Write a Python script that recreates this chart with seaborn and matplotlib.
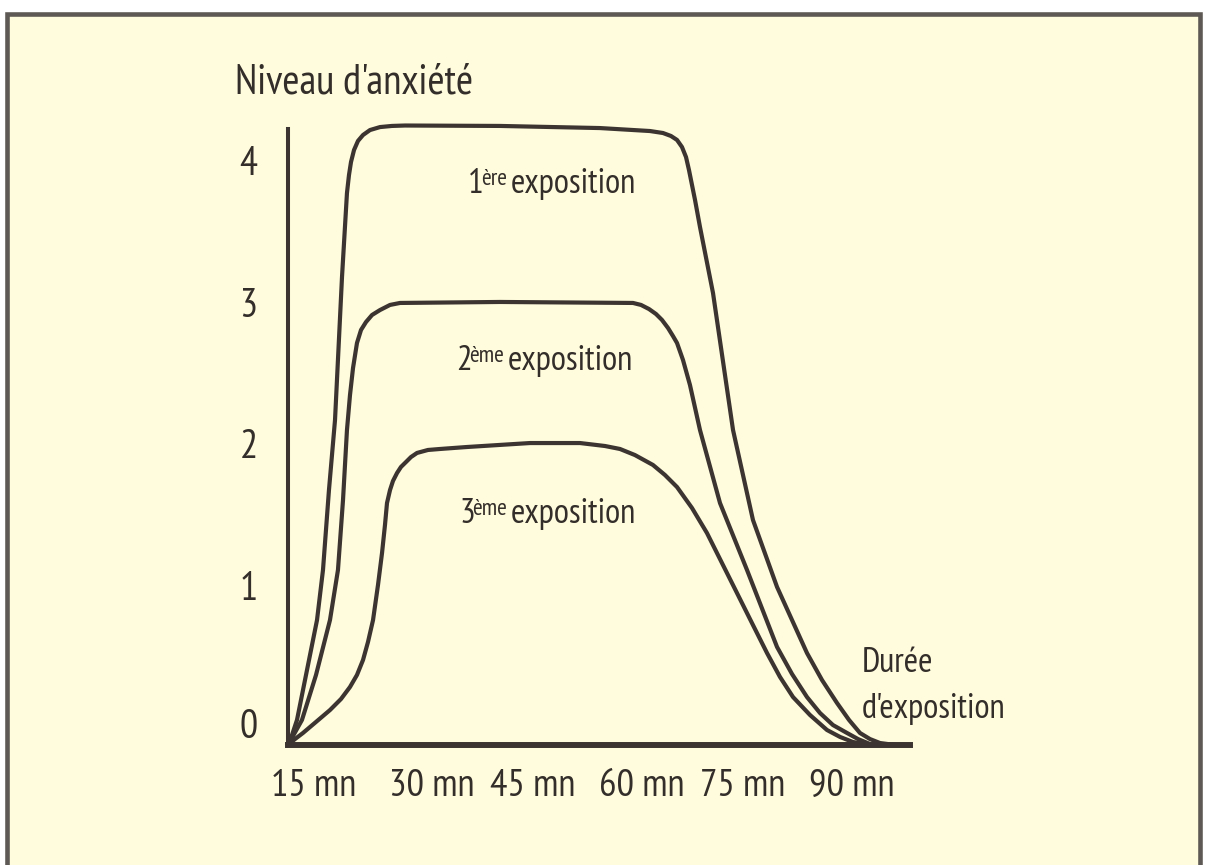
import numpy as np
import pandas as pd
import matplotlib
matplotlib.use("Agg")
import matplotlib.pyplot as plt
from matplotlib.patches import Rectangle
import seaborn as sns

# ---------------- data (minutes, anxiety level) ----------------
series_names = ["1ère exposition", "2ème exposition", "3ème exposition"]

t1 = [12.50, 13.06, 13.75, 14.86, 16.53, 17.36, 18.19, 19.03, 20.00, 20.69, 20.97, 21.25,
      21.67, 22.22, 22.92, 23.89, 25.28, 26.94, 28.75, 41.94, 55.83, 62.78, 64.58, 65.69,
      66.53, 67.22, 67.78, 68.19, 68.61, 69.03, 69.72, 71.53, 74.31, 77.08, 80.42, 84.58,
      86.67, 88.75, 90.42, 91.94, 93.33, 94.72, 96.81]
v1 = [0.0, 0.071, 0.177, 0.459, 0.883, 1.237, 1.802, 2.297, 3.307, 3.901, 4.028, 4.120,
      4.205, 4.269, 4.311, 4.346, 4.367, 4.375, 4.378, 4.375, 4.360, 4.339, 4.325, 4.304,
      4.276, 4.226, 4.155, 4.064, 3.958, 3.852, 3.661, 3.194, 2.226, 1.590, 1.117, 0.650,
      0.459, 0.297, 0.177, 0.085, 0.042, 0.014, 0.0]

t2 = [12.50, 14.44, 16.39, 18.33, 19.44, 20.14, 20.69, 21.11, 21.53, 22.08, 22.64, 23.33,
      24.17, 25.28, 26.67, 28.06, 41.94, 60.42, 61.53, 62.64, 63.61, 64.44, 65.28, 65.97,
      66.53, 67.36, 68.33, 69.72, 72.50, 76.25, 80.42, 82.50, 84.58, 86.39, 88.19, 90.14,
      91.67, 93.33]
v2 = [0.0, 0.177, 0.495, 0.883, 1.237, 1.731, 2.226, 2.473, 2.664, 2.841, 2.933, 2.989,
      3.039, 3.074, 3.110, 3.124, 3.131, 3.124, 3.110, 3.081, 3.046, 3.004, 2.947, 2.890,
      2.841, 2.721, 2.544, 2.226, 1.710, 1.237, 0.693, 0.502, 0.339, 0.226, 0.141, 0.085,
      0.042, 0.007]

t3 = [12.50, 13.47, 14.58, 16.39, 18.33, 19.86, 21.11, 22.08, 22.92, 23.61, 24.31, 25.00,
      25.56, 25.97, 26.25, 26.67, 27.08, 27.64, 28.19, 28.89, 29.58, 30.42, 31.94, 33.61,
      37.36, 46.11, 53.06, 56.53, 58.61, 60.69, 63.19, 64.86, 66.53, 68.61, 70.69, 74.86,
      76.94, 79.03, 80.83, 82.64, 85.00, 87.36, 89.17, 90.97, 93.33]
v3 = [0.0, 0.042, 0.085, 0.163, 0.247, 0.325, 0.410, 0.495, 0.601, 0.728, 0.883, 1.131,
      1.357, 1.555, 1.710, 1.802, 1.866, 1.922, 1.965, 2.000, 2.035, 2.064, 2.085, 2.092,
      2.106, 2.134, 2.134, 2.113, 2.092, 2.049, 1.979, 1.908, 1.823, 1.675, 1.498, 1.074,
      0.862, 0.650, 0.481, 0.339, 0.212, 0.106, 0.057, 0.021, 0.0]

y_tick_labels = ["0", "1", "2", "3", "4"]
x_tick_labels = ["15 mn", "30 mn", "45 mn", "60 mn", "75 mn", "90 mn"]

# ---------------- layout / style ----------------
W, H = 1206, 865
CREAM = "#fffcdd"
BORDER = "#5e5954"
INK = "#3b3430"
TEXT = "#342e2a"

y_tick_pos = [0.15, 1.13, 2.13, 3.13, 4.13]
x_tick_pos = [16.1, 32.4, 46.5, 61.7, 75.6, 90.8]

sns.set_style("white")
plt.rcParams["font.family"] = ["PT Sans Narrow", "DejaVu Sans"]

fig = plt.figure(figsize=(W / 100, H / 100), dpi=100, facecolor="white")
fig.add_artist(Rectangle((7 / W, -0.02), (1200 - 7) / W, 1.02 - 14.5 / H,
                         transform=fig.transFigure, facecolor=CREAM,
                         edgecolor=BORDER, lw=3.3, zorder=0))

PX_PER_MIN = 7.2
PX_PER_UNIT = 141.5
ax = fig.add_axes([288 / W, (H - 745) / H, (940 - 288) / W, (745 - 100) / H])
ax.set_facecolor("none")

df = pd.concat([
    pd.DataFrame({"t": t1, "v": v1, "exposition": series_names[0]}),
    pd.DataFrame({"t": t2, "v": v2, "exposition": series_names[1]}),
    pd.DataFrame({"t": t3, "v": v3, "exposition": series_names[2]}),
], ignore_index=True)

sns.lineplot(data=df, x="t", y="v", hue="exposition", palette=[INK] * 3,
             sort=False, estimator=None, lw=3.0, legend=False, ax=ax)
for ln in ax.lines:
    ln.set_clip_on(False)
    ln.set_solid_joinstyle("round")
    ln.set_solid_capstyle("round")

ax.set_xlim(12.5, 12.5 + (940 - 288) / PX_PER_MIN)
ax.set_ylim(0, (745 - 100) / PX_PER_UNIT)

for s in ("top", "right"):
    ax.spines[s].set_visible(False)
ax.spines["left"].set_bounds(0, (745 - 129) / PX_PER_UNIT)
ax.spines["left"].set_linewidth(2.9)
ax.spines["left"].set_color(INK)
ax.spines["bottom"].set_bounds(12.5, 12.5 + (910 - 288) / PX_PER_MIN)
ax.spines["bottom"].set_linewidth(4.3)
ax.spines["bottom"].set_color(INK)

ax.set_yticks(y_tick_pos, y_tick_labels)
ax.set_xticks(x_tick_pos, x_tick_labels)
ax.tick_params(axis="y", length=0, pad=22, labelsize=29, labelcolor=TEXT)
ax.tick_params(axis="x", length=0, pad=17, labelsize=28, labelcolor=TEXT)
ax.set_xlabel("")
ax.set_ylabel("")


def ftext(x, y, s, size, **kw):
    return fig.text(x / W, 1 - y / H, s, ha="left", va="baseline",
                    fontsize=size, color=TEXT, **kw)


ftext(235, 93, "Niveau d'anxiété", 30)
ftext(862, 672, "Durée", 25)
ftext(862, 718, "d'exposition", 25)


def ordinal_label(x, y, num, sup, rest):
    a = ftext(x, y, num, 25)
    b = ax.annotate(sup, xy=(1, 1), xycoords=a, xytext=(-1.5, -0.5),
                    textcoords="offset points", ha="left", va="top",
                    fontsize=17, color=TEXT, annotation_clip=False)
    ax.annotate(rest, xy=(1, 0), xycoords=(b, a), xytext=(2.5, 0),
                textcoords="offset points", ha="left", va="bottom",
                fontsize=25, color=TEXT, annotation_clip=False)


ordinal_label(468, 193, "1", "ère", "exposition")
ordinal_label(456, 370, "2", "ème", "exposition")
ordinal_label(459, 523, "3", "ème", "exposition")

fig.savefig("out.png", dpi=100, facecolor=fig.get_facecolor())
